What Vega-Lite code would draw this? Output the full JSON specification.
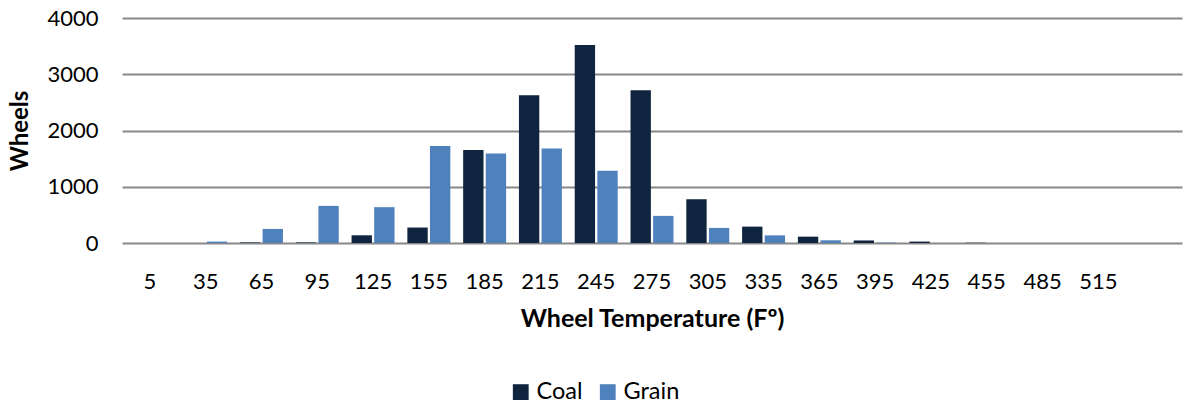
{
  "$schema": "https://vega.github.io/schema/vega-lite/v6.json",
  "autosize": "none",
  "padding": {"left": 122, "top": 18, "right": 1, "bottom": 161},
  "width": 1060,
  "height": 225,
  "background": "white",
  "config": {
    "font": "Lato",
    "view": {"stroke": null}
  },
  "data": {
    "values": [
      {"temp": "5", "series": "Coal", "wheels": 0},
      {"temp": "5", "series": "Grain", "wheels": 0},
      {"temp": "35", "series": "Coal", "wheels": 0},
      {"temp": "35", "series": "Grain", "wheels": 25},
      {"temp": "65", "series": "Coal", "wheels": 10},
      {"temp": "65", "series": "Grain", "wheels": 250},
      {"temp": "95", "series": "Coal", "wheels": 10},
      {"temp": "95", "series": "Grain", "wheels": 660},
      {"temp": "125", "series": "Coal", "wheels": 137},
      {"temp": "125", "series": "Grain", "wheels": 637},
      {"temp": "155", "series": "Coal", "wheels": 275},
      {"temp": "155", "series": "Grain", "wheels": 1725},
      {"temp": "185", "series": "Coal", "wheels": 1654},
      {"temp": "185", "series": "Grain", "wheels": 1589},
      {"temp": "215", "series": "Coal", "wheels": 2625},
      {"temp": "215", "series": "Grain", "wheels": 1679},
      {"temp": "245", "series": "Coal", "wheels": 3518},
      {"temp": "245", "series": "Grain", "wheels": 1286},
      {"temp": "275", "series": "Coal", "wheels": 2714},
      {"temp": "275", "series": "Grain", "wheels": 482},
      {"temp": "305", "series": "Coal", "wheels": 779},
      {"temp": "305", "series": "Grain", "wheels": 268},
      {"temp": "335", "series": "Coal", "wheels": 291},
      {"temp": "335", "series": "Grain", "wheels": 136},
      {"temp": "365", "series": "Coal", "wheels": 113},
      {"temp": "365", "series": "Grain", "wheels": 48},
      {"temp": "395", "series": "Coal", "wheels": 45},
      {"temp": "395", "series": "Grain", "wheels": 8},
      {"temp": "425", "series": "Coal", "wheels": 25},
      {"temp": "425", "series": "Grain", "wheels": 0},
      {"temp": "455", "series": "Coal", "wheels": 5},
      {"temp": "455", "series": "Grain", "wheels": 0},
      {"temp": "485", "series": "Coal", "wheels": 0},
      {"temp": "485", "series": "Grain", "wheels": 0},
      {"temp": "515", "series": "Coal", "wheels": 0},
      {"temp": "515", "series": "Grain", "wheels": 0},
      {"temp": "545", "series": "Coal", "wheels": 0},
      {"temp": "545", "series": "Grain", "wheels": 0}
    ]
  },
  "mark": {"type": "bar"},
  "encoding": {
    "x": {
      "field": "temp",
      "type": "nominal",
      "sort": null,
      "scale": {"paddingInner": 0.23, "paddingOuter": 0.115},
      "axis": {
        "title": "Wheel Temperature (Fº)",
        "titleFont": "Lato",
        "titleFontSize": 25,
        "titleFontWeight": "bold",
        "titleColor": "#000000",
        "titlePadding": 14,
        "labelAngle": 0,
        "labelFontSize": 22,
        "labelColor": "#000000",
        "labelPadding": 28,
        "labelExpr": "datum.value == '545' ? '' : datum.label",
        "domain": false,
        "ticks": false
      }
    },
    "xOffset": {
      "field": "series",
      "type": "nominal",
      "scale": {"paddingInner": 0.1}
    },
    "y": {
      "field": "wheels",
      "type": "quantitative",
      "scale": {"domain": [0, 4000]},
      "axis": {
        "title": "Wheels",
        "titleFont": "Lato",
        "titleFontSize": 24,
        "titleFontWeight": "bold",
        "titleColor": "#000000",
        "titlePadding": 14,
        "values": [0, 1000, 2000, 3000, 4000],
        "format": "d",
        "labelFontSize": 22,
        "labelColor": "#000000",
        "labelPadding": 24,
        "domain": false,
        "ticks": false,
        "grid": true,
        "gridColor": "#888888",
        "gridWidth": 2
      }
    },
    "color": {
      "field": "series",
      "type": "nominal",
      "scale": {"domain": ["Coal", "Grain"], "range": ["#0F243E", "#4F81BD"]},
      "legend": {
        "title": null,
        "orient": "none",
        "direction": "horizontal",
        "legendX": 387,
        "legendY": 362,
        "symbolType": "square",
        "symbolSize": 250,
        "symbolStrokeWidth": 0,
        "labelFontSize": 23.5,
        "labelColor": "#000000",
        "labelOffset": 4,
        "columnPadding": 13
      }
    }
  }
}
